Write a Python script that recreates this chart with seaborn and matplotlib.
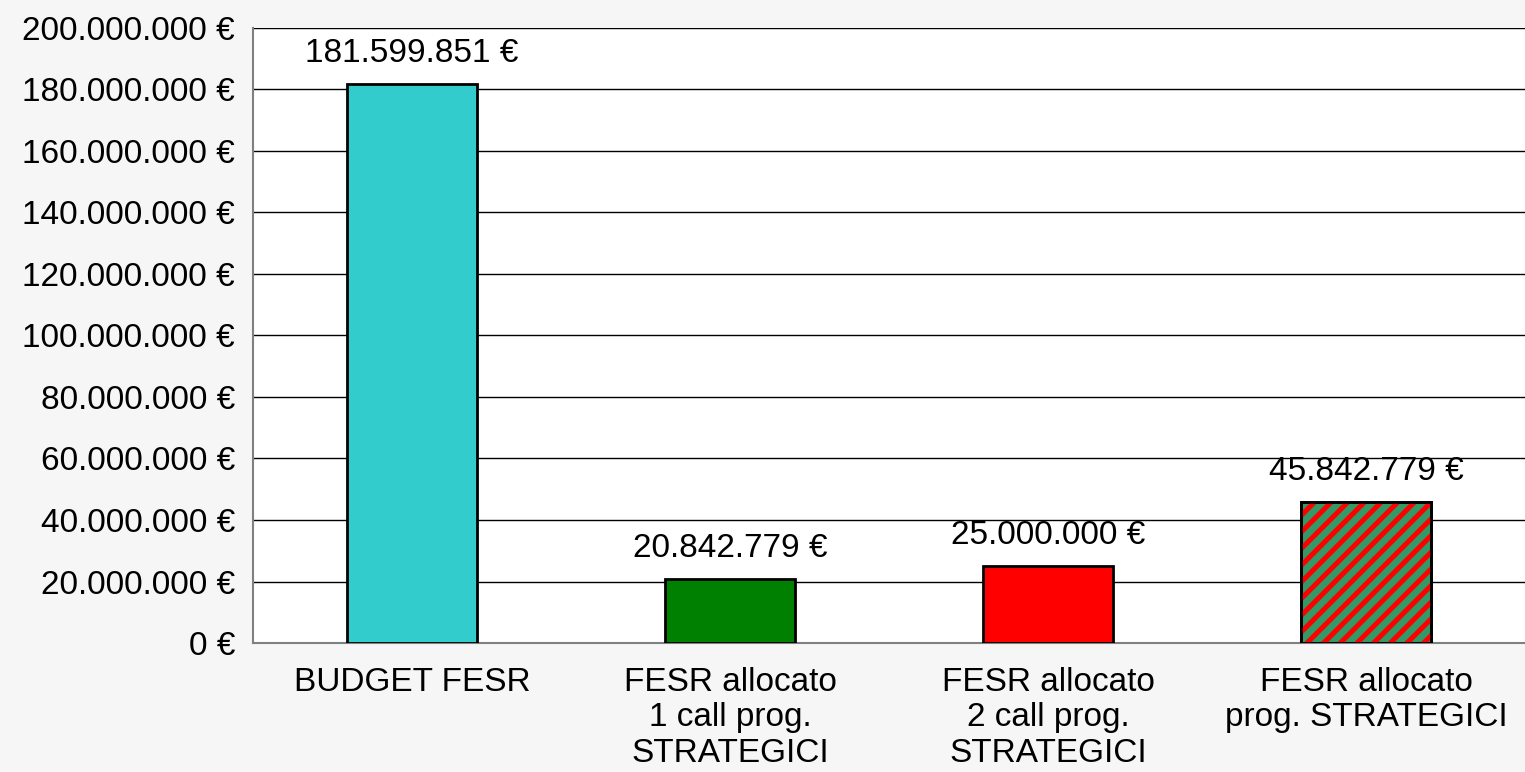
import matplotlib
matplotlib.use("Agg")
import matplotlib.pyplot as plt
import seaborn as sns
from matplotlib.ticker import FuncFormatter, FixedLocator

categorie = ["BUDGET FESR",
             "FESR allocato\n1 call prog.\nSTRATEGICI",
             "FESR allocato\n2 call prog.\nSTRATEGICI",
             "FESR allocato\nprog. STRATEGICI"]
valori = [181599851, 20842779, 25000000, 45842779]
colori = ["#33CCCC", "#008000", "#FF0000", "#339966"]


def euro(v, pos=None):
    return f"{int(round(v)):,}".replace(",", ".") + " €"


sns.set_style("white")
plt.rcParams['font.family'] = ['Liberation Sans', 'DejaVu Sans']
plt.rcParams['hatch.linewidth'] = 3.6
plt.rcParams['text.color'] = 'black'
plt.rcParams['xtick.color'] = 'black'
plt.rcParams['ytick.color'] = 'black'

fig = plt.figure(figsize=(15.25, 7.72), dpi=100, facecolor="#f6f6f6")
ax = fig.add_axes([0.166, 0.167, 0.834, 0.797])
ax.set_facecolor("white")

sns.barplot(ax=ax, x=categorie, y=valori, hue=categorie, palette=colori, saturation=1,
            width=0.41, edgecolor="black", linewidth=2, legend=False, zorder=3)

# barra tratteggiata: strisce rosse sopra il verde
ultima = ax.patches[3]
ax.bar(ultima.get_x() + ultima.get_width() / 2, valori[3], width=ultima.get_width(),
       fill=False, hatch="//", edgecolor="#FF0000", linewidth=0, zorder=4)
ax.bar(ultima.get_x() + ultima.get_width() / 2, valori[3], width=ultima.get_width(),
       fill=False, edgecolor="black", linewidth=2, zorder=5)

for i, v in enumerate(valori):
    ax.text(i, v + 10e6, euro(v), ha="center", va="center", fontsize=24)

ax.set_ylim(0, 200000000)
ax.set_xlim(-0.5, 3.5)
ax.yaxis.set_major_locator(FixedLocator(range(0, 200000001, 20000000)))
ax.yaxis.set_major_formatter(FuncFormatter(euro))
ax.grid(axis="y", color="black", linewidth=1, zorder=0)
ax.set_axisbelow(True)

ax.xaxis.set_major_locator(FixedLocator([0.5, 1.5, 2.5]))
ax.xaxis.set_minor_locator(FixedLocator([0, 1, 2, 3]))
ax.set_xticklabels([], minor=False)
ax.set_xticklabels(categorie, minor=True, fontsize=24, linespacing=1.2)
ax.tick_params(axis="x", which="major", length=9, width=1, color="#808080", direction="out")
ax.tick_params(axis="x", which="minor", length=0, pad=17)
ax.tick_params(axis="y", length=9, width=1, color="#808080", labelsize=24, pad=4)
ax.set_xlabel("")

for lato in ["top", "right"]:
    ax.spines[lato].set_visible(False)
for lato in ["left", "bottom"]:
    ax.spines[lato].set_color("#808080")
    ax.spines[lato].set_linewidth(1.5)

fig.savefig("out.png", dpi=100, facecolor=fig.get_facecolor())
